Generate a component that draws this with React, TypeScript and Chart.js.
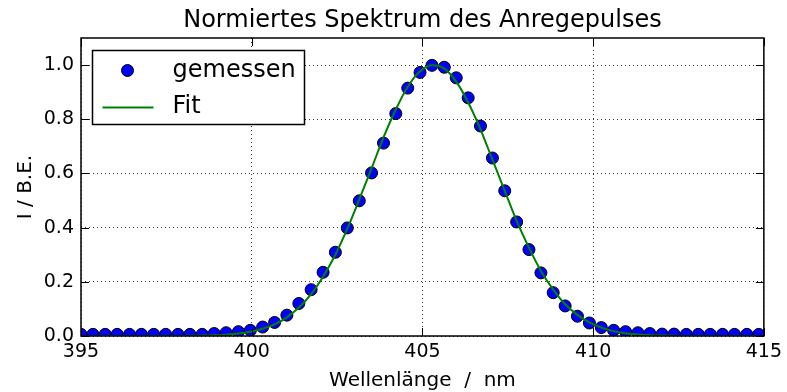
import React, { useEffect, useRef } from "react";
import { Chart, registerables } from "chart.js";

Chart.register(...registerables);

const TITLE = "Normiertes Spektrum des Anregepulses";
const X_LABEL = "Wellenlänge  /  nm";
const Y_LABEL = "I / B.E.";
const LEGEND_MEASURED = "gemessen";
const LEGEND_FIT = "Fit";

const wavelengths = [
  395.0, 395.35, 395.71, 396.06, 396.42, 396.77, 397.13, 397.48, 397.84, 398.19,
  398.55, 398.9, 399.25, 399.61, 399.96, 400.32, 400.67, 401.03, 401.38, 401.74,
  402.09, 402.45, 402.8, 403.15, 403.51, 403.86, 404.22, 404.57, 404.93, 405.28,
  405.64, 405.99, 406.34, 406.7, 407.05, 407.41, 407.76, 408.12, 408.47, 408.83,
  409.18, 409.54, 409.89, 410.24, 410.6, 410.95, 411.31, 411.66, 412.02, 412.37,
  412.73, 413.08, 413.43, 413.79, 414.14, 414.5, 414.85,
];

const measured = [
  0.006, 0.006, 0.006, 0.006, 0.006, 0.006, 0.006, 0.006, 0.006, 0.006,
  0.006, 0.009, 0.012, 0.016, 0.021, 0.033, 0.05, 0.077, 0.12, 0.171,
  0.235, 0.309, 0.399, 0.499, 0.602, 0.712, 0.821, 0.915, 0.973, 0.999,
  0.992, 0.953, 0.879, 0.775, 0.657, 0.536, 0.421, 0.319, 0.233, 0.16,
  0.111, 0.073, 0.048, 0.031, 0.021, 0.016, 0.012, 0.009, 0.007, 0.007,
  0.006, 0.006, 0.006, 0.006, 0.006, 0.006, 0.006,
];

const fitted = [
  0.0, 0.0, 0.0, 0.0, 0.0, 0.0, 0.0, 0.0, 0.0, 0.0006,
  0.0013, 0.0025, 0.005, 0.009, 0.016, 0.027, 0.043, 0.069, 0.105, 0.155,
  0.219, 0.3, 0.396, 0.504, 0.619, 0.733, 0.836, 0.92, 0.977, 0.999,
  0.987, 0.939, 0.862, 0.763, 0.651, 0.536, 0.425, 0.326, 0.24, 0.171,
  0.117, 0.078, 0.05, 0.031, 0.018, 0.01, 0.006, 0.003, 0.0015, 0.0007,
  0.0, 0.0, 0.0, 0.0, 0.0, 0.0, 0.0,
];

const xTicks = [395, 400, 405, 410, 415];
const yTicks = [0, 0.2, 0.4, 0.6, 0.8, 1.0];

const FONT = "'DejaVu Sans', sans-serif";
const BLUE = "#0000ff";
const GREEN = "#008000";

const decorPlugin = {
  id: "decor",
  afterDatasetsDraw(chart: any) {
    const { ctx, chartArea } = chart;
    const { left, right, top, bottom } = chartArea;
    const xs = chart.scales.x;
    const ys = chart.scales.y;
    ctx.save();
    // inward ticks on all four sides
    ctx.strokeStyle = "#000";
    ctx.lineWidth = 1;
    const tl = 8;
    xTicks.forEach((v) => {
      const px = Math.round(xs.getPixelForValue(v)) + 0.5;
      ctx.beginPath();
      ctx.moveTo(px, bottom);
      ctx.lineTo(px, bottom - tl);
      ctx.moveTo(px, top);
      ctx.lineTo(px, top + tl);
      ctx.stroke();
    });
    yTicks.forEach((v) => {
      const py = Math.round(ys.getPixelForValue(v)) + 0.5;
      ctx.beginPath();
      ctx.moveTo(left, py);
      ctx.lineTo(left + tl, py);
      ctx.moveTo(right, py);
      ctx.lineTo(right - tl, py);
      ctx.stroke();
    });
    // frame
    ctx.lineWidth = 1.5;
    ctx.strokeRect(left, top, right - left, bottom - top);

    // legend
    const lx = left + 11.5;
    const ly = top + 12.5;
    const lw = 212;
    const lh = 74;
    ctx.fillStyle = "#fff";
    ctx.fillRect(lx, ly, lw, lh);
    ctx.lineWidth = 1.5;
    ctx.strokeStyle = "#000";
    ctx.strokeRect(lx, ly, lw, lh);
    ctx.beginPath();
    ctx.arc(lx + 35, ly + 20, 6, 0, Math.PI * 2);
    ctx.fillStyle = BLUE;
    ctx.fill();
    ctx.lineWidth = 1;
    ctx.strokeStyle = "#000";
    ctx.stroke();
    ctx.beginPath();
    ctx.moveTo(lx + 10, ly + 57);
    ctx.lineTo(lx + 61, ly + 57);
    ctx.strokeStyle = GREEN;
    ctx.lineWidth = 2;
    ctx.stroke();
    ctx.fillStyle = "#000";
    ctx.font = `24px ${FONT}`;
    ctx.textAlign = "left";
    ctx.textBaseline = "middle";
    ctx.fillText(LEGEND_MEASURED, lx + 80, ly + 20);
    ctx.fillText(LEGEND_FIT, lx + 80, ly + 56);

    // title
    const cx = (left + right) / 2;
    ctx.textAlign = "center";
    ctx.textBaseline = "alphabetic";
    ctx.font = `24px ${FONT}`;
    ctx.fillText(TITLE, cx, 27);
    // x label
    ctx.font = `20px ${FONT}`;
    ctx.fillText(X_LABEL, cx, 386);
    // y label
    ctx.translate(31, (top + bottom) / 2);
    ctx.rotate(-Math.PI / 2);
    ctx.fillText(Y_LABEL, 0, 0);
    ctx.restore();
  },
};

export default function App() {
  const ref = useRef<HTMLCanvasElement | null>(null);

  useEffect(() => {
    document.body.style.margin = "0";
    const canvas = ref.current;
    if (!canvas) return;
    const chart = new Chart(canvas, {
      type: "scatter",
      data: {
        datasets: [
          {
            label: LEGEND_FIT,
            data: wavelengths.map((x, i) => ({ x, y: fitted[i] })),
            showLine: true,
            borderColor: GREEN,
            borderWidth: 2,
            pointRadius: 0,
            tension: 0.4,
            cubicInterpolationMode: "monotone",
            clip: 0,
          } as any,
          {
            label: LEGEND_MEASURED,
            data: wavelengths.map((x, i) => ({ x, y: measured[i] })),
            showLine: false,
            backgroundColor: BLUE,
            borderColor: "#000",
            borderWidth: 1,
            pointRadius: 6,
            clip: 0,
          } as any,
        ],
      },
      options: {
        animation: false,
        responsive: false,
        devicePixelRatio: 1,
        layout: { padding: { top: 38, right: 21, left: 0, bottom: 0 } },
        plugins: {
          legend: { display: false },
          title: { display: false },
          tooltip: { enabled: false },
        },
        scales: {
          x: {
            type: "linear",
            min: 395,
            max: 415,
            afterBuildTicks: (s: any) => {
              s.ticks = xTicks.map((v) => ({ value: v }));
            },
            afterFit: (s: any) => {
              s.height = 56;
            },
            grid: {
              color: "#333",
              lineWidth: 1,
              drawTicks: false,
              tickBorderDash: [1, 3],
            } as any,
            border: { display: false, dash: [1, 3] },
            ticks: {
              color: "#000",
              font: { family: FONT, size: 19 },
              padding: 5,
              maxRotation: 0,
              callback: (v: any) => String(v),
            },
          },
          y: {
            type: "linear",
            min: 0,
            max: 1.1,
            afterBuildTicks: (s: any) => {
              s.ticks = yTicks.map((v) => ({ value: v }));
            },
            afterFit: (s: any) => {
              s.width = 81;
            },
            grid: {
              color: "#333",
              lineWidth: 1,
              drawTicks: false,
            },
            border: { display: false, dash: [1, 3] },
            ticks: {
              color: "#000",
              font: { family: FONT, size: 19 },
              padding: 7,
              callback: (v: any) => Number(v).toFixed(1),
            },
          },
        },
      } as any,
      plugins: [decorPlugin],
    });
    return () => chart.destroy();
  }, []);

  return (
    <div style={{ width: 787, height: 392 }}>
      <canvas ref={ref} width={787} height={392} style={{ width: 787, height: 392, display: "block" }} />
    </div>
  );
}
